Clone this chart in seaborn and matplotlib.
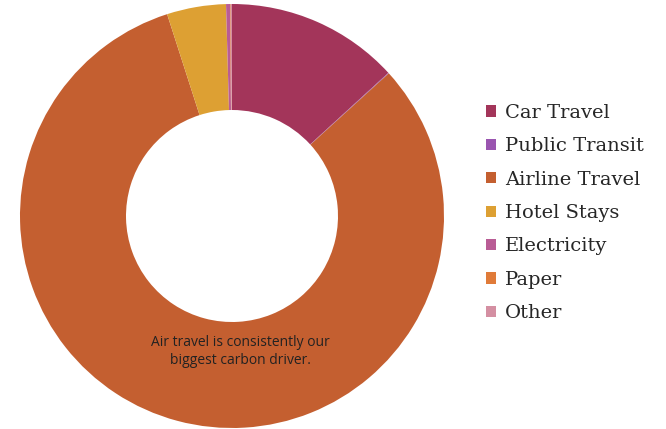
import matplotlib
matplotlib.use("Agg")
import matplotlib.pyplot as plt
import seaborn as sns
from matplotlib.patches import Patch

categories = ["Car Travel", "Public Transit", "Airline Travel", "Hotel Stays",
              "Electricity", "Paper", "Other"]
values = [13.2, 0.05, 81.8, 4.5, 0.3, 0.05, 0.1]
colors = ["#A3355A", "#9A55B0", "#C45F30", "#DDA033", "#B95C95", "#E07B39", "#D48FA2"]
note = "Air travel is consistently our\nbiggest carbon driver."

sns.set_theme(style="white")
palette = sns.color_palette(colors)

fig = plt.figure(figsize=(6.66, 4.29), dpi=100)
ax = fig.add_axes([20 / 666, 1 / 429, 424 / 666, 424 / 429])
ax.pie(values, colors=palette, startangle=90, counterclock=False,
       wedgeprops=dict(width=0.5, linewidth=0), radius=1.0)
ax.set_xlim(-1, 1)
ax.set_ylim(-1, 1)
ax.set_aspect("equal")
ax.axis("off")

ax.text(0.04, -0.64, note, ha="center", va="center", fontsize=10,
        family=["Open Sans", "DejaVu Sans"], color="#222222", linespacing=1.3)

handles = [Patch(facecolor=c, edgecolor="none") for c in palette]
fig.legend(handles, categories, loc="upper left", bbox_to_anchor=(486 / 666, 1 - 104 / 429),
           frameon=False, prop={"family": "DejaVu Serif", "size": 14},
           handlelength=0.52, handleheight=0.52, handletextpad=0.45, labelspacing=0.79,
           borderaxespad=0, borderpad=0)

fig.savefig("out.png", dpi=100, facecolor="white")
